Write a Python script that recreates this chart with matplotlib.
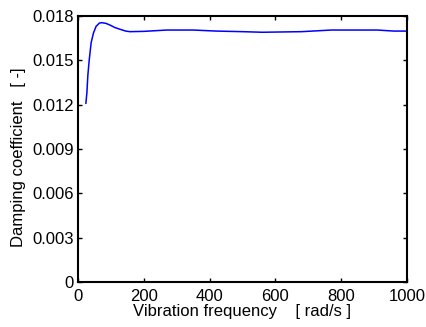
import matplotlib
matplotlib.use("Agg")
import matplotlib.pyplot as plt

plt.rcParams['font.family'] = ['Liberation Sans', 'DejaVu Sans']

frequency = [24, 27, 30, 34, 40, 47, 55, 65, 72, 85, 97, 112, 128, 145, 158,
             200, 270, 350, 420, 500, 560, 680, 770, 910, 960, 1000]
damping = [0.0121, 0.0128, 0.0140, 0.0150, 0.0162, 0.01685, 0.0173, 0.01752,
           0.01755, 0.0175, 0.01739, 0.01722, 0.0171, 0.01698, 0.01694,
           0.01696, 0.01705, 0.01705, 0.01698, 0.01694, 0.0169, 0.01694,
           0.01705, 0.01705, 0.01698, 0.01698]

x_ticks = [0, 200, 400, 600, 800, 1000]
y_ticks = [0, 0.003, 0.006, 0.009, 0.012, 0.015, 0.018]
y_tick_labels = ['0', '0.003', '0.006', '0.009', '0.012', '0.015', '0.018']

fig = plt.figure(figsize=(4.27, 3.27), dpi=100)
ax = fig.add_axes([78 / 427, 1 - 282 / 327, 329 / 427, 266 / 327])

ax.plot(frequency, damping, color='#0000ff', linewidth=1.1)

ax.set_xlim(0, 1000)
ax.set_ylim(0, 0.018)
ax.set_xticks(x_ticks)
ax.set_yticks(y_ticks)
ax.set_yticklabels(y_tick_labels)

ax.tick_params(direction='in', length=3, width=1, top=True, right=True,
               labelsize=12, colors='black')
ax.tick_params(axis='x', pad=5)
ax.tick_params(axis='y', pad=3)
for spine in ax.spines.values():
    spine.set_linewidth(1.5)

ax.set_xlabel('Vibration frequency    [ rad/s ]', fontsize=12, labelpad=0)
ax.set_ylabel('Damping coefficient   [ -]', fontsize=12)
ax.yaxis.set_label_coords(-0.157, 0.47)

fig.savefig('out.png', dpi=100)
